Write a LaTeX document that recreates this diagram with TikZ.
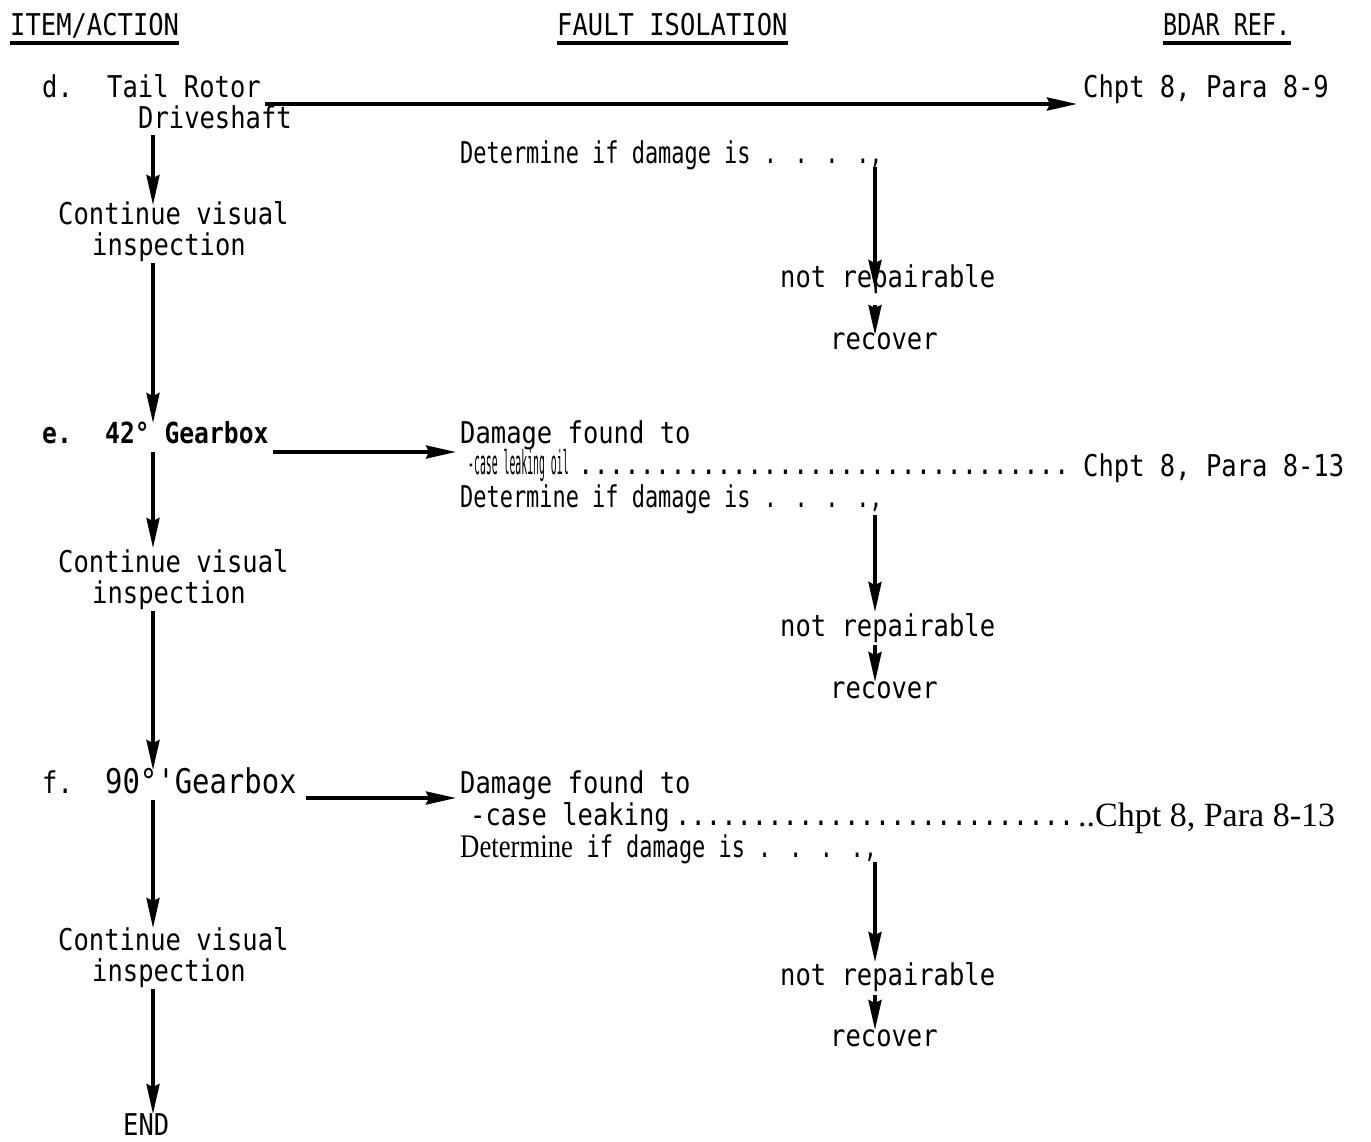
\documentclass[tikz,border=0pt]{standalone}
\usepackage{fontspec}
\usepackage{graphicx}
\usetikzlibrary{arrows.meta,calc}
\newfontfamily\mono{DejaVu Sans Mono}[FakeStretch=0.85]
\newfontfamily\serif{Liberation Serif}
\begin{document}
\begin{tikzpicture}[x=1pt,y=-1pt,
  txt/.style={anchor=base west, inner sep=0pt, font=\mono\fontsize{30}{33}\selectfont},
  btxt/.style={txt, font=\mono\bfseries\fontsize{29}{32}\selectfont},
  arr/.style={line width=3.5pt, -{Stealth[length=30pt,width=13pt,inset=3pt]}},
  uline/.style={line width=3.5pt}]
\useasboundingbox (0,0) rectangle (1371,1141);
\coordinate (sp) at (153,0);
\coordinate (rc) at (875,0);
% headers
\node[txt] (h1) at (10,35) {ITEM/ACTION};
\node[txt] (h2) at (557,35) {FAULT ISOLATION};
\node[txt] (h3) at (1163,35) {\scalebox{0.92}[1]{BDAR REF.}};
\foreach \h in {h1,h2,h3}
  \draw[uline] ($(\h.base west)+(0,8)$) -- ($(\h.base east)+(0,8)$);
% row d
\node[txt] (dd) at (42,97) {d.};
\node[txt] (tr) at (107,97) {Tail Rotor};
\node[txt] (drv) at (138,128) {Driveshaft};
\node[txt] (ch1) at (1083,97) {Chpt 8, Para 8-9};
\node[txt] (det1) at (460,163) {\scalebox{0.86}[1]{Determine if damage is . . . .,}};
\node[txt] (c1) at (58,224) {Continue visual};
\node[txt] (i1) at (92,255) {inspection};
\node[txt] (nr1) at (780,287) {not repairable};
\node[txt] (rc1) at (830,349) {recover};
% row e
\node[btxt] (ee) at (42,443) {e.};
\node[btxt] (eg) at (105,443) {42° Gearbox};
\node[txt] (df2) at (460,443) {Damage found to};
\node[txt] (cl2) at (468,474) {\scalebox{0.35}[1]{\fontsize{33}{36}\selectfont -case leaking oil}};
\node[txt] (dt2) at (578,474) {................................};
\node[txt] (ch2) at (1083,476) {Chpt 8, Para 8-13};
\node[txt] (det2) at (460,507) {\scalebox{0.86}[1]{Determine if damage is . . . .,}};
\node[txt] (c2) at (58,572) {Continue visual};
\node[txt] (i2) at (92,603) {inspection};
\node[txt] (nr2) at (780,636) {not repairable};
\node[txt] (rc2) at (830,698) {recover};
% row f
\node[txt] (ff) at (42,793) {f.};
\node[txt, font=\mono\fontsize{34}{38}\selectfont] (fg) at (105,793) {90°'Gearbox};
\node[txt] (df3) at (460,793) {Damage found to};
\node[txt] (cl3) at (470,825) {-case leaking};
\node[txt] (dt3) at (675,825) {..........................};
\node[txt, font=\serif\fontsize{34}{38}\selectfont] (ch3) at (1078,826) {..Chpt 8, Para 8-13};
\node[txt, font=\serif\fontsize{33}{36}\selectfont] (det3) at (460,857) {\scalebox{0.81}[1]{Determine}};
\node[txt] (det3b) at (det3.base east) {\scalebox{0.86}[1]{ if damage is . . . .,}};
\node[txt] (c3) at (58,950) {Continue visual};
\node[txt] (i3) at (92,981) {inspection};
\node[txt] (nr3) at (780,985) {not repairable};
\node[txt] (rc3) at (830,1046) {recover};
\node[txt] (end) at (123,1135) {END};
% left spine
\draw[arr] ($(sp |- drv.base)+(0,7)$) -- ($(sp |- c1.base)+(0,-19)$);
\draw[arr] ($(sp |- i1.base)+(0,8)$) -- ($(sp |- eg.base)+(0,-20)$);
\draw[arr] ($(sp |- eg.base)+(0,9)$) -- ($(sp |- c2.base)+(0,-24)$);
\draw[arr] ($(sp |- i2.base)+(0,8)$) -- ($(sp |- fg.base)+(0,-23)$);
\draw[arr] ($(sp |- fg.base)+(0,7)$) -- ($(sp |- c3.base)+(0,-22)$);
\draw[arr] ($(sp |- i3.base)+(0,8)$) -- ($(sp |- end.base)+(0,-21)$);
% horizontal
\draw[arr] ($(tr.base east)+(4,7)$) -- ($(ch1.base west)+(-6,7)$);
\draw[arr] ($(eg.base east)+(4,9)$) -- ($(df2.base west)+(-4,9)$);
\draw[arr] ($(fg.base east)+(9,5)$) -- ($(df3.base west)+(-4,5)$);
% right column
\draw[arr] ($(rc |- det1.base)+(0,4)$) -- ($(rc |- nr1.base)+(0,3)$);
\draw[arr] ($(rc |- nr1.base)+(0,18)$) -- ($(rc |- rc1.base)+(0,-14)$);
\draw[arr] ($(rc |- det2.base)+(0,8)$) -- ($(rc |- nr2.base)+(0,-24)$);
\draw[arr] ($(rc |- nr2.base)+(0,9)$) -- ($(rc |- rc2.base)+(0,-16)$);
\draw[arr] ($(rc |- det3b.base)+(0,5)$) -- ($(rc |- nr3.base)+(0,-23)$);
\draw[arr] ($(rc |- nr3.base)+(0,10)$) -- ($(rc |- rc3.base)+(0,-16)$);
\end{tikzpicture}
\end{document}
